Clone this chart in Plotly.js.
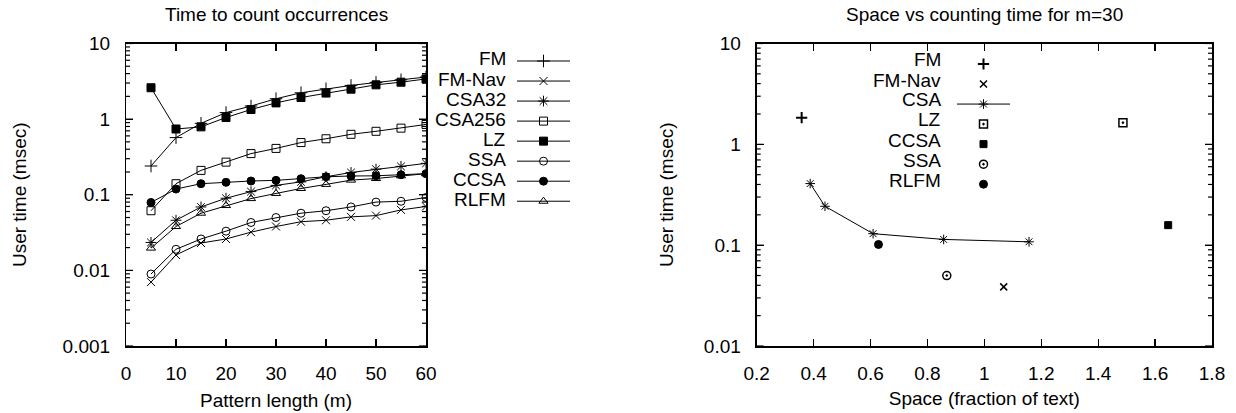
<!DOCTYPE html>
<html>
<head>
<meta charset="utf-8">
<script src="https://cdn.plot.ly/plotly-3.0.1.min.js"></script>
<style>html,body{margin:0;padding:0;background:#fff}#chart{width:1236px;height:413px}</style>
</head>
<body>
<div id="chart"></div>
<script>
// ---- Left plot: time to count occurrences vs pattern length ----
const patternLength = [5, 10, 15, 20, 25, 30, 35, 40, 45, 50, 55, 60];
const leftNames = ["FM", "FM-Nav", "CSA32", "CSA256", "LZ", "SSA", "CCSA", "RLFM"];
const fmTime      = [0.24, 0.57, 0.88, 1.22, 1.49, 1.86, 2.23, 2.52, 2.79, 3.05, 3.31, 3.6];
const fmNavTime   = [0.007, 0.016, 0.023, 0.026, 0.032, 0.038, 0.044, 0.046, 0.051, 0.053, 0.063, 0.07];
const csa32Time   = [0.0234, 0.046, 0.069, 0.09, 0.11, 0.133, 0.148, 0.173, 0.197, 0.218, 0.237, 0.26];
const csa256Time  = [0.0615, 0.14, 0.21, 0.27, 0.35, 0.41, 0.49, 0.55, 0.63, 0.69, 0.76, 0.85];
const lzTime      = [2.6, 0.74, 0.79, 1.05, 1.34, 1.64, 1.93, 2.21, 2.49, 2.84, 3.08, 3.4];
const ssaTime     = [0.00895, 0.019, 0.026, 0.033, 0.043, 0.050, 0.057, 0.0615, 0.069, 0.080, 0.082, 0.092];
const ccsaTime    = [0.079, 0.119, 0.14, 0.146, 0.152, 0.155, 0.163, 0.173, 0.177, 0.178, 0.184, 0.19];
const rlfmTime    = [0.0197, 0.038, 0.057, 0.072, 0.089, 0.104, 0.121, 0.137, 0.156, 0.164, 0.178, 0.19];
const leftYTickVals = [0.001, 0.01, 0.1, 1, 10];
const leftYTickText = ["0.001", "0.01", "0.1", "1", "10"];

// ---- Right plot: space vs counting time for m=30 ----
const rightNames = ["FM", "FM-Nav", "CSA", "LZ", "CCSA", "SSA", "RLFM"];
const fmSpace = [0.358],     fmTimeM30 = [1.84];
const fmNavSpace = [1.068],  fmNavTimeM30 = [0.0386];
const csaSpace = [0.388, 0.44, 0.609, 0.857, 1.157];
const csaTimeM30 = [0.408, 0.243, 0.13, 0.114, 0.108];
const lzSpace = [1.487],     lzTimeM30 = [1.64];
const ccsaSpace = [1.646],   ccsaTimeM30 = [0.158];
const ssaSpace = [0.868],    ssaTimeM30 = [0.05];
const rlfmSpace = [0.628],   rlfmTimeM30 = [0.1016];
const rightYTickVals = [0.01, 0.1, 1, 10];
const rightYTickText = ["0.01", "0.1", "1", "10"];

const W = 1236, H = 413;
const px = v => v / W;
const py = v => 1 - v / H;
const FONT = "Liberation Sans, Arial, sans-serif";
const BLACK = "#000";

function lineTrace(x, y, symbol, size, xa, ya, leg) {
  return {
    x: x, y: y, xaxis: xa, yaxis: ya, type: "scatter", mode: "lines+markers",
    name: "", legend: leg, hoverinfo: "x+y",
    line: {color: BLACK, width: 1},
    marker: {symbol: symbol, size: size, color: BLACK, line: {color: BLACK, width: 1}}
  };
}
function ptTrace(x, y, symbol, size, lw, xa, ya, leg, withLine) {
  return {
    x: x, y: y, xaxis: xa, yaxis: ya, type: "scatter", mode: withLine ? "lines+markers" : "markers",
    name: "", legend: leg, hoverinfo: "x+y",
    line: {color: BLACK, width: 1},
    marker: {symbol: symbol, size: size, color: BLACK, line: {color: BLACK, width: lw}}
  };
}

const leftData = [fmTime, fmNavTime, csa32Time, csa256Time, lzTime, ssaTime, ccsaTime, rlfmTime];
const leftSym  = ["cross-thin-open", "x-thin-open", "asterisk-open", "square-open", "square", "circle-open", "circle", "triangle-up-open"];
const leftSize = [9, 8, 9, 8, 8, 8, 8, 8];
const traces = [];
leftData.forEach((d, i) => traces.push(lineTrace(patternLength, d, leftSym[i], leftSize[i], "x", "y", "legend")));

traces.push(ptTrace(fmSpace, fmTimeM30, "cross-thin-open", 8, 2, "x2", "y2", "legend2", false));
traces.push(ptTrace(fmNavSpace, fmNavTimeM30, "x-thin-open", 7, 1.5, "x2", "y2", "legend2", false));
traces.push(ptTrace(csaSpace, csaTimeM30, "asterisk-open", 8, 1, "x2", "y2", "legend2", true));
traces.push(ptTrace(lzSpace, lzTimeM30, "square-open-dot", 8, 1.5, "x2", "y2", "legend2", false));
traces.push(ptTrace(ccsaSpace, ccsaTimeM30, "square", 7, 1, "x2", "y2", "legend2", false));
traces.push(ptTrace(ssaSpace, ssaTimeM30, "circle-open-dot", 8, 1.5, "x2", "y2", "legend2", false));
traces.push(ptTrace(rlfmSpace, rlfmTimeM30, "circle", 8, 1, "x2", "y2", "legend2", false));

const yDom = [1 - 346 / H, 1 - 43.5 / H];
const leftDomX = [px(126), px(426)];
const rightDomX = [px(756.7), px(1212)];

// Axis tick marks on the log y axes (major at decades, minor at 2..9), both sides, drawn inside.
const shapes = [];
function logTickShapes(decVals, xref, yref, lo, hi, plotWidthPx) {
  const add = (v, len) => {
    const f = (Math.log10(v) - lo) / (hi - lo);
    const d = len / plotWidthPx;
    [[0, d], [1 - d, 1]].forEach(([a, b]) => shapes.push({
      type: "line", xref: xref + " domain", yref: yref + " domain",
      x0: a, x1: b, y0: f, y1: f, layer: "above",
      line: {color: BLACK, width: 1.2}
    }));
  };
  for (let i = 0; i < decVals.length; i++) {
    add(decVals[i], 7);
    if (i < decVals.length - 1) for (let m = 2; m <= 9; m++) add(m * decVals[i], 4);
  }
}
logTickShapes(leftYTickVals, "x", "y", -3, 1, 300);
logTickShapes(rightYTickVals, "x2", "y2", -2, 1, 455.3);

const xAxisCommon = {
  showline: true, linecolor: BLACK, linewidth: 1.5, mirror: "allticks",
  ticks: "inside", ticklen: 7, tickwidth: 1.2, tickcolor: BLACK,
  showgrid: false, zeroline: false, automargin: false,
  tickfont: {family: FONT, size: 19, color: BLACK},
  ticklabelstandoff: 10
};
function logAxis(decVals, decText, dom, lo, hi, anchorX, title, standoff) {
  return {
    type: "log", domain: dom, range: [lo, hi], anchor: anchorX,
    showline: true, linecolor: BLACK, linewidth: 1.5, mirror: "ticks",
    ticks: "inside", ticklen: 7, tickwidth: 1.2, tickcolor: BLACK,
    showgrid: false, zeroline: false, automargin: false,
    tickfont: {family: FONT, size: 19, color: BLACK},
    tickmode: "array", tickvals: decVals, ticktext: decText.map(t => t + "\u00a0\u00a0"),
    title: {text: title, font: {family: FONT, size: 19, color: BLACK}, standoff: standoff}
  };
}

const annotations = [];
function ann(text, x, y, xanchor, extra) {
  annotations.push(Object.assign({text: text, x: x, y: y, xref: "paper", yref: "paper",
    xanchor: xanchor, yanchor: "middle", showarrow: false,
    font: {family: FONT, size: 19, color: BLACK}}, extra || {}));
}
ann("Time to count occurrences", px(276), py(14), "center");
ann("Space vs counting time for m=30", px(984), py(14), "center");
leftNames.forEach((n, i) => ann(n, px(508), py(59 + 20.1 * i), "right"));
rightNames.forEach((n, i) => ann(n, px(943), py(60 + 20 * i), "right"));

const layout = {
  width: W, height: H,
  margin: {l: 0, r: 0, t: 0, b: 0},
  paper_bgcolor: "#fff", plot_bgcolor: "#fff",
  font: {family: FONT, size: 19, color: BLACK},
  xaxis: Object.assign({}, xAxisCommon, {domain: leftDomX, range: [0, 60], dtick: 10, tick0: 0, anchor: "y",
    title: {text: "Pattern length (m)", font: {family: FONT, size: 19, color: BLACK}, standoff: 10}}),
  yaxis: logAxis(leftYTickVals, leftYTickText, yDom, -3, 1, "x", "User time (msec)", 31),
  xaxis2: Object.assign({}, xAxisCommon, {domain: rightDomX, range: [0.2, 1.8], dtick: 0.2, tick0: 0.2, anchor: "y2",
    title: {text: "Space (fraction of text)", font: {family: FONT, size: 19, color: BLACK}, standoff: 8}}),
  yaxis2: logAxis(rightYTickVals, rightYTickText, yDom, -2, 1, "x2", "User time (msec)", 25),
  legend: {x: px(512), y: py(46), xanchor: "left", yanchor: "top", bgcolor: "rgba(0,0,0,0)",
    borderwidth: 0, font: {family: FONT, size: 13.1}, itemwidth: 53, tracegroupgap: 0, itemclick: false},
  legend2: {x: px(952), y: py(49), xanchor: "left", yanchor: "top", bgcolor: "rgba(0,0,0,0)",
    borderwidth: 0, font: {family: FONT, size: 13.1}, itemwidth: 53, tracegroupgap: 0, itemclick: false},
  showlegend: true,
  shapes: shapes,
  annotations: annotations
};

Plotly.newPlot("chart", traces, layout, {displayModeBar: false, staticPlot: true});
</script>
</body>
</html>
